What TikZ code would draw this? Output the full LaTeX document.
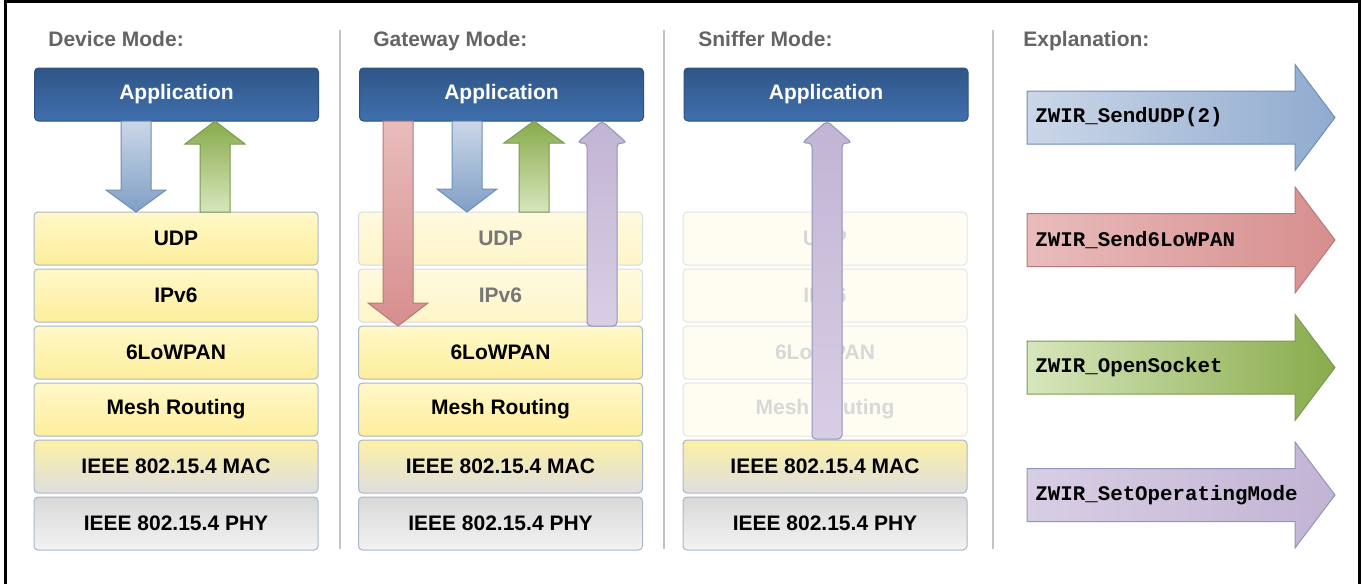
\documentclass[tikz,border=0pt]{standalone}
\usepackage{fontspec}
\setmainfont{Liberation Sans}
\setmonofont{Liberation Mono}
\usepackage{xcolor}

\definecolor{apptop}{HTML}{2F5586}
\definecolor{appbot}{HTML}{4070AE}
\definecolor{appedge}{HTML}{2C5282}
\definecolor{layertop}{HTML}{FFF8C8}
\definecolor{layerbot}{HTML}{FDEE9C}
\definecolor{layeredge}{HTML}{A9B7CB}
\definecolor{mactop}{HTML}{FDF0A4}
\definecolor{macbot}{HTML}{DEDEDE}
\definecolor{phytop}{HTML}{D8D8D8}
\definecolor{phybot}{HTML}{F3F3F3}
\definecolor{fadetop}{HTML}{FFFAE0}
\definecolor{fadebot}{HTML}{FEF5C8}
\definecolor{fadeedge}{HTML}{D5DBE5}
\definecolor{fadetext}{HTML}{777777}
\definecolor{ghostfill}{HTML}{FFFDF2}
\definecolor{ghostedge}{HTML}{E4E4E4}
\definecolor{ghosttext}{HTML}{D8D8D8}
\definecolor{headgray}{HTML}{646464}
\definecolor{sepgray}{HTML}{C4C4C4}
\definecolor{bluelight}{HTML}{CBD7E8}
\definecolor{bluedark}{HTML}{809FC6}
\definecolor{blueright}{HTML}{90ABCF}
\definecolor{blueedge}{HTML}{6F8DB5}
\definecolor{redlight}{HTML}{E9BCBC}
\definecolor{reddark}{HTML}{D68E8D}
\definecolor{rededge}{HTML}{B97878}
\definecolor{greenlight}{HTML}{D7E6BD}
\definecolor{greendark}{HTML}{88AB4A}
\definecolor{greenedge}{HTML}{7A9A52}
\definecolor{purplelight}{HTML}{D8CEE4}
\definecolor{purpledark}{HTML}{C2B4D4}
\definecolor{purpleedge}{HTML}{8E96BA}

\newcommand{\layerfont}{\fontsize{10.5}{12}\selectfont\bfseries}
\newcommand{\codefont}{\fontsize{10.4}{12}\selectfont\ttfamily\bfseries}

% block arrows: x, y start, y head base, y tip, head half width, colours
\newcommand{\vblock}[9][]{%
	\draw[draw=#9, top color=#7, bottom color=#8, line width=0.5pt, #1]
	(#2-15,#3) -- (#2+15,#3) -- (#2+15,#4) -- (#2+#6,#4) -- (#2,#5) -- (#2-#6,#4) -- (#2-15,#4) -- cycle;}
\newcommand{\rightblock}[4]{%
	\draw[draw=#4, left color=#2, right color=#3, line width=0.5pt]
	(1027,#1-26.5) -- (1295,#1-26.5) -- (1295,#1-53) -- (1335,#1) -- (1295,#1+53) -- (1295,#1+26.5) -- (1027,#1+26.5) -- cycle;}

\begin{document}
\begin{tikzpicture}[x=0.5pt,y=-0.5pt]
	\tikzstyle{every node}+=[inner sep=0pt]
	\tikzstyle{heading}=[anchor=base west, text=headgray, font=\layerfont]
	\tikzstyle{appbox}=[draw=appedge, line width=0.5pt, rounded corners=2pt, top color=apptop, bottom color=appbot, minimum width=142pt, minimum height=26.5pt, text=white, font=\layerfont]
	\tikzstyle{layerbox}=[draw=layeredge, line width=0.5pt, rounded corners=2pt, top color=layertop, bottom color=layerbot, minimum width=142pt, minimum height=26.5pt, font=\layerfont]
	\tikzstyle{macbox}=[layerbox, top color=mactop, bottom color=macbot]
	\tikzstyle{phybox}=[layerbox, top color=phytop, bottom color=phybot]
	\tikzstyle{fadebox}=[layerbox, draw=fadeedge, top color=fadetop, bottom color=fadebot, text=fadetext]
	\tikzstyle{ghostbox}=[layerbox, draw=ghostedge, top color=ghostfill, bottom color=ghostfill, text=ghosttext]
	\tikzstyle{sepline}=[sepgray, line width=1pt]
	\tikzstyle{codelabel}=[anchor=west, font=\codefont]
	\useasboundingbox (0,0) rectangle (1362,584);
	\fill[white] (0,0) rectangle (1362,584);
	\draw[line width=1.5pt] (5.5,584) -- (5.5,1.5) -- (1359,1.5) -- (1359,584);
	% separators
	\draw[sepline] (340,30) -- (340,549);
	\draw[sepline] (664,30) -- (664,549);
	\draw[sepline] (993,30) -- (993,549);
	% headings
	\node[heading] (hdev) at (48,46) {Device Mode:};
	\node[heading] (hgw) at (373,46) {Gateway Mode:};
	\node[heading] (hsn) at (698,46) {Sniffer Mode:};
	\node[heading] (hexp) at (1023,46) {Explanation:};
	% device mode
	\node[appbox] (appdev) at (176.5,94.5) {Application};
	\node[layerbox] (udpdev) at (176,238.5) {UDP};
	\node[layerbox] (ipdev) at (176,295.5) {IPv6};
	\node[layerbox] (lowdev) at (176,352.5) {6LoWPAN};
	\node[layerbox] (meshdev) at (176,409.5) {Mesh Routing};
	\node[macbox] (macdev) at (176,466.5) {IEEE 802.15.4 MAC};
	\node[phybox] (phydev) at (176,523.5) {IEEE 802.15.4 PHY};
	\vblock{136}{121}{190}{212}{30}{bluelight}{bluedark}{blueedge}
	\vblock{215}{212}{144}{121}{30}{greendark}{greenlight}{greenedge}
	% gateway mode
	\node[appbox] (appgw) at (501.5,94.5) {Application};
	\node[fadebox] (udpgw) at (500.5,238.5) {UDP};
	\node[fadebox] (ipgw) at (500.5,295.5) {IPv6};
	\node[layerbox] (lowgw) at (500.5,352.5) {6LoWPAN};
	\node[layerbox] (meshgw) at (500.5,409.5) {Mesh Routing};
	\node[macbox] (macgw) at (500.5,466.5) {IEEE 802.15.4 MAC};
	\node[phybox] (phygw) at (500.5,523.5) {IEEE 802.15.4 PHY};
	\vblock{398}{121}{303}{326}{30}{redlight}{reddark}{rededge}
	\vblock{467}{121}{189}{212}{30}{bluelight}{bluedark}{blueedge}
	\vblock{534}{212}{143}{121}{30}{greendark}{greenlight}{greenedge}
	\vblock[rounded corners=2pt]{602}{326}{143}{121}{25}{purpledark}{purplelight}{purpleedge}
	% sniffer mode
	\node[appbox] (appsn) at (826,94.5) {Application};
	\node[ghostbox] (udpsn) at (825,238.5) {UDP};
	\node[ghostbox] (ipsn) at (825,295.5) {IPv6};
	\node[ghostbox] (lowsn) at (825,352.5) {6LoWPAN};
	\node[ghostbox] (meshsn) at (825,409.5) {Mesh Routing};
	\node[macbox] (macsn) at (825,466.5) {IEEE 802.15.4 MAC};
	\node[phybox] (physn) at (825,523.5) {IEEE 802.15.4 PHY};
	\vblock[rounded corners=2pt]{827}{439}{143}{121}{25}{purpledark}{purplelight}{purpleedge}
	% explanation
	\rightblock{117.5}{bluelight}{blueright}{blueedge}
	\node[codelabel] (expudp) at (1035,117.5) {ZWIR\_SendUDP(2)};
	\rightblock{240}{redlight}{reddark}{rededge}
	\node[codelabel] (explow) at (1035,240) {ZWIR\_Send6LoWPAN};
	\rightblock{367.5}{greenlight}{greendark}{greenedge}
	\node[codelabel] (expsock) at (1035,367.5) {ZWIR\_OpenSocket};
	\rightblock{495}{purplelight}{purpledark}{purpleedge}
	\node[codelabel] (expmode) at (1035,495) {ZWIR\_SetOperatingMode};
\end{tikzpicture}
\end{document}
